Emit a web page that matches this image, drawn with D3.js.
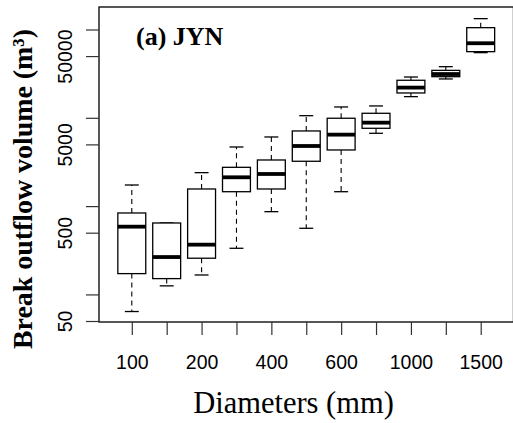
<!DOCTYPE html>
<html>
<head>
<meta charset="utf-8">
<script src="https://cdn.jsdelivr.net/npm/d3@7"></script>
<style>
  html, body { margin: 0; padding: 0; background: #fff; }
  svg { display: block; }
</style>
</head>
<body>
<svg id="chart" width="513" height="423"></svg>
<script>
// ---- data ----
const categories   = ["100","150","200","300","400","500","600","800","1000","1200","1500"];
const whiskerLow   = [64,   125,  166,  333,  865,  561,  1456, 6677, 17370, 27540, 54700];
const q1           = [172,  151,  257,  1456, 1563, 3220, 4323, 7608, 19110, 29220, 56110];
const median       = [585,  265,  366,  2120, 2311, 4795, 6446, 8811, 21980, 31310, 69880];
const q3           = [836,  644,  1563, 2750, 3329, 7096, 9886, 11250, 26610, 34450, 104900];
const whiskerHigh  = [1734, 644,  2393, 4672, 6067, 10570, 13270, 13620, 28970, 37930, 132700];
const xTickLabels  = ["100","200","400","600","1000","1500"];
const yTicks       = [50, 100, 500, 1000, 5000, 10000, 50000, 100000];
const yTickLabels  = ["50","500","5000","50000"];
const titleText    = "(a) JYN";
const xLabel       = "Diameters (mm)";
const yLabel       = "Break outflow volume (m³)";

// ---- layout ----
const plot = {left: 99, right: 513.5, top: 7, bottom: 322};
const svg = d3.select("#chart");

const step = (plot.right - plot.left) / (categories.length + 0.88);
const x = d3.scalePoint()
  .domain(categories)
  .range([plot.left + 0.94 * step, plot.left + (0.94 + categories.length - 1) * step]);
const boxW = 0.8 * step;

const y = d3.scaleLog().domain([50, 100000]).range([321, 29.5]);

const boxes = categories.map((c, i) => ({
  c, lo: whiskerLow[i], q1: q1[i], med: median[i], q3: q3[i], hi: whiskerHigh[i]
}));

// boxes and whiskers
const g = svg.append("g");
boxes.forEach(d => {
  const cx = x(d.c);
  const dash = "5,4";
  if (d.hi > d.q3) {
    g.append("line").attr("x1", cx).attr("x2", cx).attr("y1", y(d.q3)).attr("y2", y(d.hi))
      .attr("stroke", "#000").attr("stroke-width", 1.1).attr("stroke-dasharray", dash);
  }
  if (d.lo < d.q1) {
    g.append("line").attr("x1", cx).attr("x2", cx).attr("y1", y(d.q1)).attr("y2", y(d.lo))
      .attr("stroke", "#000").attr("stroke-width", 1.1).attr("stroke-dasharray", dash);
  }
  [d.hi, d.lo].forEach(v => {
    g.append("line").attr("x1", cx - boxW / 4).attr("x2", cx + boxW / 4)
      .attr("y1", y(v)).attr("y2", y(v))
      .attr("stroke", "#000").attr("stroke-width", 1.3);
  });
  g.append("rect").attr("x", cx - boxW / 2).attr("width", boxW)
    .attr("y", y(d.q3)).attr("height", y(d.q1) - y(d.q3))
    .attr("fill", "#fff").attr("stroke", "#000").attr("stroke-width", 1.3);
  g.append("line").attr("x1", cx - boxW / 2).attr("x2", cx + boxW / 2)
    .attr("y1", y(d.med)).attr("y2", y(d.med))
    .attr("stroke", "#000").attr("stroke-width", 3.8);
});

// frame
svg.append("rect").attr("x", plot.left).attr("y", plot.top)
  .attr("width", plot.right - plot.left).attr("height", plot.bottom - plot.top)
  .attr("fill", "none").attr("stroke", "#111").attr("stroke-width", 1.4);

// x axis
const xAxis = d3.axisBottom(x)
  .tickSize(13)
  .tickFormat(c => xTickLabels.includes(c) ? c : "");
const gx = svg.append("g").attr("transform", `translate(0,${plot.bottom})`).call(xAxis);
gx.select(".domain").remove();
gx.selectAll(".tick line").attr("stroke", "#333").attr("stroke-width", 1.2);
gx.selectAll(".tick text").attr("y", 0).attr("dy", 0)
  .attr("transform", "translate(0,47)")
  .attr("font-family", "'Liberation Sans', Arial, sans-serif")
  .attr("font-size", 19.5).attr("fill", "#000");

// y axis
const yAxis = d3.axisLeft(y)
  .tickValues(yTicks)
  .tickSize(13)
  .tickFormat(v => yTickLabels.includes(String(v)) ? String(v) : "");
const gy = svg.append("g").attr("transform", `translate(${plot.left},0)`).call(yAxis);
gy.select(".domain").remove();
gy.selectAll(".tick line").attr("stroke", "#333").attr("stroke-width", 1.2);
gy.selectAll(".tick text")
  .attr("x", 0).attr("dy", 0)
  .attr("transform", "translate(-27,0) rotate(-90)")
  .attr("text-anchor", "middle")
  .attr("font-family", "'Liberation Sans', Arial, sans-serif")
  .attr("font-size", 19.5).attr("fill", "#000");

// title
svg.append("text").attr("x", 136).attr("y", 45)
  .attr("font-family", "'Liberation Serif', 'Times New Roman', serif")
  .attr("font-weight", "bold").attr("font-size", 26)
  .text(titleText);

// x label
svg.append("text").attr("x", 293.5).attr("y", 413)
  .attr("text-anchor", "middle")
  .attr("font-family", "'Liberation Serif', 'Times New Roman', serif")
  .attr("font-size", 30.5)
  .text(xLabel);

// y label
svg.append("text")
  .attr("transform", "translate(32,189) rotate(-90)")
  .attr("text-anchor", "middle")
  .attr("font-family", "'Liberation Serif', 'Times New Roman', serif")
  .attr("font-weight", "bold").attr("font-size", 28)
  .attr("textLength", 320).attr("lengthAdjust", "spacingAndGlyphs")
  .text(yLabel);
</script>
</body>
</html>
